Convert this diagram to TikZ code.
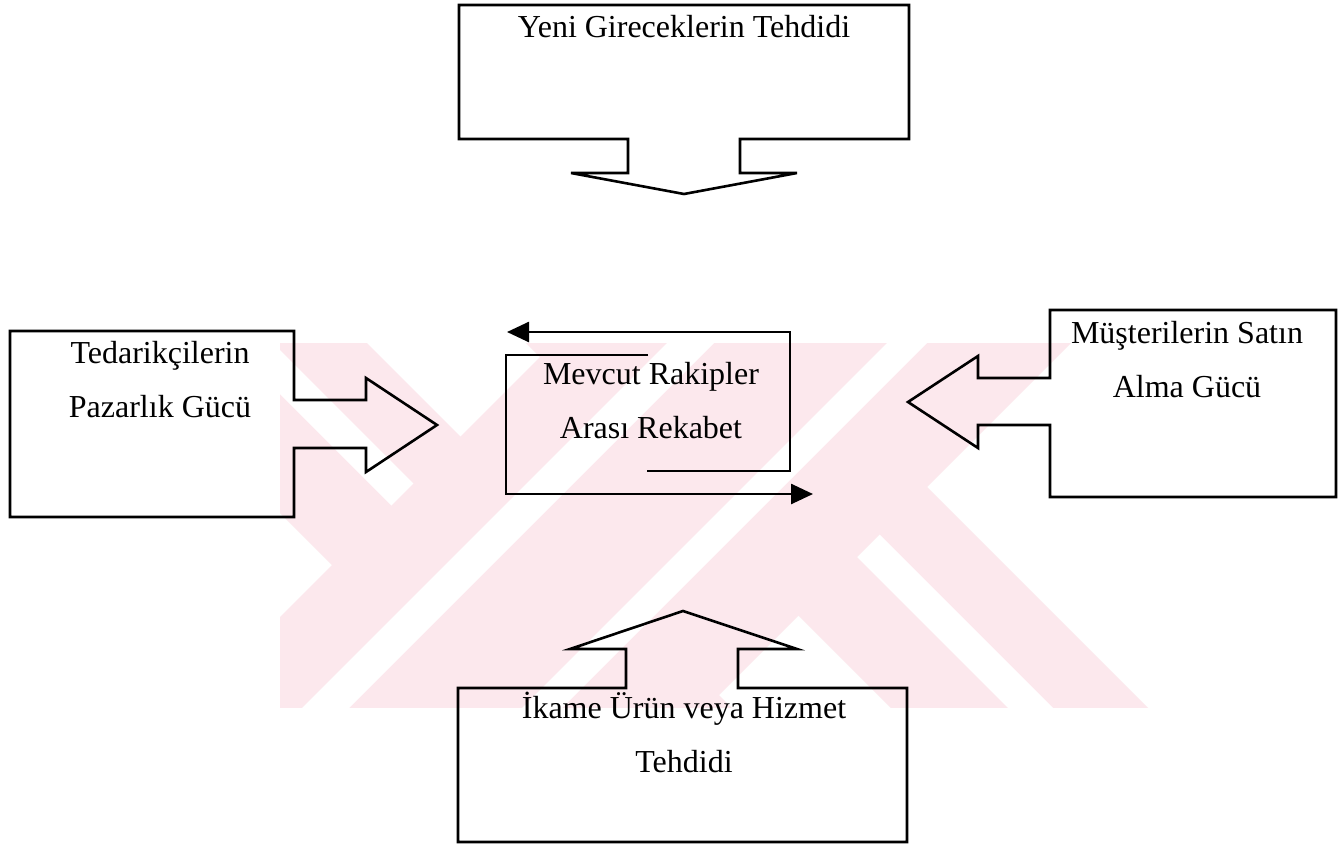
\documentclass[tikz,border=0pt]{standalone}
\usepackage{fontspec}
\setmainfont{Liberation Serif}
\usetikzlibrary{arrows.meta}
\definecolor{wm}{RGB}{252,232,237}
\newcommand{\wmBack}[3]{\fill[#3] ({#1+300},300) -- ({#2+300},300) -- ({#2+750},750) -- ({#1+750},750) -- cycle;}
\newcommand{\wmFwd}[3]{\fill[#3] ({#1-300},300) -- ({#2-300},300) -- ({#2-750},750) -- ({#1-750},750) -- cycle;}
\begin{document}
\begin{tikzpicture}[x=1pt,y=-1pt,
  outline/.style={draw=black,line width=2.6pt,line join=miter},
  lbl/.style={inner sep=0pt,align=center,anchor=north,
    font=\fontsize{32}{54}\selectfont,execute at begin node={\rule{0pt}{30pt}}},
  cyc/.style={draw=black,line width=2.6pt,-{Triangle[length=22pt,width=20pt]}}]
\useasboundingbox (0,0) rectangle (1342,844);
\fill[white] (0,0) rectangle (1342,844);
% watermark
\begin{scope}
  \clip (280,343) rectangle (1150,707);
  \wmBack{-233}{24}{wm}
  \wmBack{183}{440}{wm}
  \wmBack{-114}{-70}{white}
  \wmBack{300}{345}{white}
  \wmFwd{897}{1414}{wm}
  \wmFwd{1010}{1057}{white}
  \wmFwd{1230}{1270}{white}
\end{scope}
% top callout
\draw[outline] (459,5) -- (909,5) -- (909,139) -- (740,139) -- (740,173) -- (797,173)
  -- (684,194) -- (571,173) -- (628,173) -- (628,139) -- (459,139) -- cycle;
\node[lbl] (yeni) at (684,7) {Yeni Gireceklerin Tehdidi};
% left callout
\draw[outline] (10,331) -- (294,331) -- (294,400) -- (366,400) -- (366,378) -- (437,425)
  -- (366,472) -- (366,448) -- (294,448) -- (294,517) -- (10,517) -- cycle;
\node[lbl] (tedarik) at (160,341) {Tedarikçilerin\\Pazarlık Gücü};
% right callout
\draw[outline] (1050,310) -- (1336,310) -- (1336,497) -- (1050,497) -- (1050,425)
  -- (978,425) -- (978,448) -- (908,402) -- (978,356) -- (978,378) -- (1050,378) -- cycle;
\node[lbl] (musteri) at (1187,321) {Müşterilerin Satın\\Alma Gücü};
% bottom callout
\draw[outline] (458,688) -- (626,688) -- (626,649) -- (570,649) -- (683,611) -- (797,649)
  -- (738,649) -- (738,688) -- (907,688) -- (907,842) -- (458,842) -- cycle;
\node[lbl] (ikame) at (684,692) {İkame Ürün veya Hizmet\\Tehdidi};
% centre
\coordinate (c1) at (648,355);
\coordinate (c2) at (506,355);
\coordinate (c3) at (506,494);
\coordinate (c4) at (813,494);
\coordinate (d1) at (647,471);
\coordinate (d2) at (790,471);
\coordinate (d3) at (790,332);
\coordinate (d4) at (507,332);
\draw[cyc] (c1) -- (c2) -- (c3) -- (c4);
\draw[cyc] (d1) -- (d2) -- (d3) -- (d4);
\node[lbl] (mevcut) at (651,362) {Mevcut Rakipler\\Arası Rekabet};
\end{tikzpicture}
\end{document}
